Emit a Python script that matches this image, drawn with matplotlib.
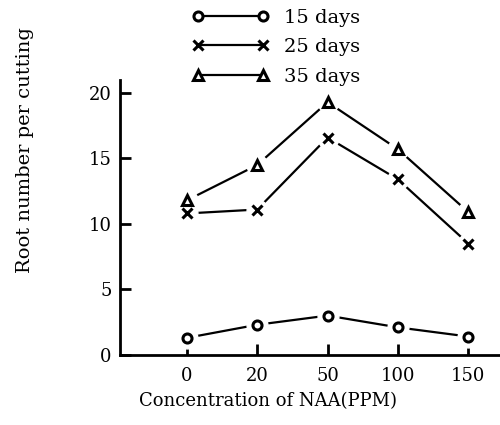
import matplotlib
matplotlib.use("Agg")
import matplotlib.pyplot as plt
from matplotlib.lines import Line2D

plt.rcParams['font.family'] = ['DejaVu Serif']

# Concentración de NAA (categorías del eje x)
concentraciones = ["0", "20", "50", "100", "150"]
dias = ["15 days", "25 days", "35 days"]
raices_15 = [1.3, 2.3, 3.0, 2.1, 1.4]
raices_25 = [10.8, 11.1, 16.6, 13.4, 8.5]
raices_35 = [11.8, 14.5, 19.3, 15.7, 10.9]
yticks = [0, 5, 10, 15, 20]

series = [raices_15, raices_25, raices_35]
marcadores = ['o', 'x', '^']
tam = 13

fig = plt.figure(figsize=(5, 4.25), dpi=100)
ax = fig.add_axes([0.24, 0.165, 0.76, 0.647])

xs = list(range(len(concentraciones)))
for valores, m, etiqueta in zip(series, marcadores, dias):
    # linea de fondo
    ax.plot(xs, valores, color='black', linewidth=1.6, zorder=1)
    # hueco blanco alrededor de cada punto
    ax.plot(xs, valores, linestyle='none', marker='o', markersize=15,
            markerfacecolor='white', markeredgecolor='white', zorder=2)
    ax.plot(xs, valores, linestyle='none', marker=m, markersize=6.5,
            markerfacecolor='white', markeredgecolor='black',
            markeredgewidth=2.2, zorder=3, label=etiqueta)

ax.set_xlim(-0.95, 4.45)
ax.set_ylim(0, 21)
ax.set_xticks(xs)
ax.set_xticklabels(concentraciones)
ax.set_yticks(yticks)

for lado in ['top', 'right']:
    ax.spines[lado].set_visible(False)
for lado in ['left', 'bottom']:
    ax.spines[lado].set_linewidth(2)

ax.tick_params(axis='both', direction='in', length=8, width=2,
               labelsize=tam)
ax.tick_params(axis='x', pad=9)
ax.tick_params(axis='y', pad=6)

ax.set_xlabel("Concentration of NAA(PPM)", fontsize=13)
ax.xaxis.set_label_coords(0.39, -0.135)
ax.set_ylabel("Root number per cutting", fontsize=14)
ax.yaxis.set_label_coords(-0.225, 0.745)

# Leyenda en la parte superior
manejadores = [Line2D([0], [0], color='black', linewidth=1.6, marker=m,
                      markersize=6.5, markerfacecolor='white',
                      markeredgecolor='black', markeredgewidth=2.2)
               for m in marcadores]
fig.legend(manejadores, dias, loc='upper left', bbox_to_anchor=(0.349, 1.02),
           frameon=False, numpoints=2, handlelength=3.95, handletextpad=0.8,
           labelspacing=0.58, fontsize=14)

fig.savefig("out.png", dpi=100)
